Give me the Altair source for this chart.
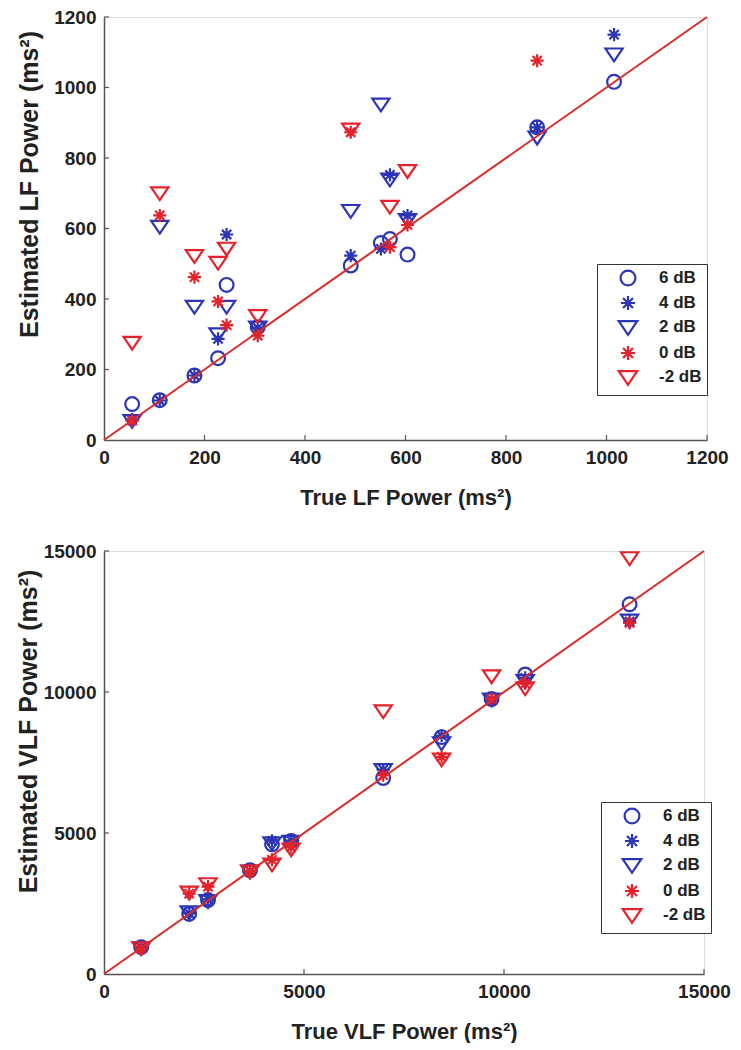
import altair as alt
import pandas as pd

BLUE = "#2B35B5"
RED = "#E5222B"
LINE_RED = "#DA2A2A"
AXIS_GRAY = "#555555"
TEXT = "#222222"
FONT = "Liberation Sans"

series = ["6 dB", "4 dB", "2 dB", "0 dB", "-2 dB"]
series_colors = [BLUE, BLUE, BLUE, RED, RED]
ASTERISK = ("M0,-0.95L0,0.95M-0.95,0L0.95,0M-0.67,-0.67L0.67,0.67"
            "M-0.67,0.67L0.67,-0.67")
TRI_DOWN = "M-1.25,-0.8L1.25,-0.8L0,1.05Z"
series_shapes = ["circle", ASTERISK, TRI_DOWN, ASTERISK, TRI_DOWN]

# ---- LF panel ----
lf_true = [56, 111, 180, 227, 244, 306, 491, 551, 569, 604, 862, 1015]
lf_6db = [102, 113, 183, 232, 440, 320, 495, 559, 570, 526, 887, 1016]
lf_4db = [58, 112, 183, 287, 583, 318, 523, 542, 752, 637, 887, 1150]
lf_2db = [55, 606, 379, 301, 379, 320, 651, 953, 740, 625, 859, 1095]
lf_0db = [55, 637, 462, 393, 326, 296, 873, None, 547, 610, 1076, None]
lf_m2db = [277, 701, 523, 504, 544, 353, 882, None, 663, 764, None, None]
lf_ticks = [0, 200, 400, 600, 800, 1000, 1200]

# ---- VLF panel ----
vlf_true = [930, 2130, 2600, 3650, 4200, 4680, 6980, 8440, 9690, 10530, 13140]
vlf_6db = [950, 2130, 2620, 3680, 4600, 4720, 6950, 8400, 9750, 10620, 13110]
vlf_4db = [950, 2150, 2650, 3660, 4720, 4730, 7250, 8450, 9700, 10500, 12500]
vlf_2db = [930, 2200, 2600, 3650, 4650, 4700, 7250, 8200, 9750, 10400, 12550]
vlf_0db = [900, 2850, 3100, 3650, 4050, 4500, 7050, 7700, 9750, 10300, 12450]
vlf_m2db = [930, 2900, 3200, 3650, 3900, 4430, 9330, 7620, 10570, 10150, 14760]
vlf_ticks = [0, 5000, 10000, 15000]


def long_df(true_vals, est_lists):
    rows = []
    for i, (name, vals) in enumerate(zip(series, est_lists)):
        for t, e in zip(true_vals, vals):
            if e is not None:
                rows.append({"true": t, "est": e, "series": name, "ord": i})
    return pd.DataFrame(rows)


def panel(df, ticks, xtitle, ytitle, w, h, title_y, ytitle_pad, lx, ly):
    dmax = ticks[-1]
    xs = alt.Scale(domain=[0, dmax], nice=False, zero=True)
    ys = alt.Scale(domain=[0, dmax], nice=False, zero=True)
    common_axis = dict(
        values=ticks, ticks=False, tickSize=0, grid=False,
        domainColor=AXIS_GRAY, domainWidth=1.5,
        labelFont=FONT, labelFontSize=19, labelFontWeight="bold", labelColor=TEXT,
        labelPadding=8, titleFont=FONT, titleFontWeight="bold",
        titleColor=TEXT, format="d", labelFlush=False, labelOverlap=False,
    )
    xaxis = alt.Axis(title=xtitle, titlePadding=20, titleFontSize=22, **common_axis)
    yaxis = alt.Axis(title=ytitle, titlePadding=ytitle_pad, titleFontSize=25,
                     titleY=title_y, **common_axis)
    legend = alt.Legend(
        title=None, orient="none", legendX=lx, legendY=ly,
        fillColor="white", strokeColor="#333333", padding=5,
        symbolSize=220, symbolStrokeWidth=2.2, symbolOffset=17,
        labelFont=FONT, labelFontSize=17, labelFontWeight="bold", labelColor=TEXT,
        labelOffset=22, rowPadding=1,
    )
    pts = alt.Chart(df).mark_point(filled=False, strokeWidth=2.2, size=190, opacity=1).encode(
        x=alt.X("true:Q", scale=xs, axis=xaxis),
        y=alt.Y("est:Q", scale=ys, axis=yaxis),
        color=alt.Color("series:N", scale=alt.Scale(domain=series, range=series_colors), legend=legend),
        shape=alt.Shape("series:N", scale=alt.Scale(domain=series, range=series_shapes), legend=legend),
        order=alt.Order("ord:Q"),
    )

    line_df = pd.DataFrame({"true": [0, dmax], "est": [0, dmax]})
    line = alt.Chart(line_df).mark_line(color=LINE_RED, strokeWidth=2).encode(
        x=alt.X("true:Q", scale=xs, axis=xaxis), y=alt.Y("est:Q", scale=ys, axis=yaxis)
    )
    tick_df = pd.DataFrame({"true": ticks[1:], "est": ticks[1:]})
    xt = alt.Chart(tick_df).mark_rule(color=AXIS_GRAY, strokeWidth=1.2).encode(
        x=alt.X("true:Q", scale=xs, axis=xaxis), y=alt.value(h), y2=alt.value(h - 5)
    )
    yt = alt.Chart(tick_df).mark_rule(color=AXIS_GRAY, strokeWidth=1.2).encode(
        y=alt.Y("est:Q", scale=ys, axis=yaxis), x=alt.value(0), x2=alt.value(5)
    )
    return alt.layer(pts, line, xt, yt).properties(width=w, height=h)


lf_df = long_df(lf_true, [lf_6db, lf_4db, lf_2db, lf_0db, lf_m2db])
vlf_df = long_df(vlf_true, [vlf_6db, vlf_4db, vlf_2db, vlf_0db, vlf_m2db])

top = panel(lf_df, lf_ticks, "True LF Power (ms²)", "Estimated LF Power (ms²)",
            603, 423, 167, 11, 493, 247)
bottom = panel(vlf_df, vlf_ticks, "True VLF Power (ms²)", "Estimated VLF Power (ms²)",
               600, 423, 180, 2, 497, 251)

chart = alt.vconcat(top, bottom, spacing=32).resolve_scale(
    color="independent", shape="independent"
).properties(
    padding={"left": 7, "top": -1, "right": 0, "bottom": 0}
).configure_view(stroke=None).configure(background="white")

chart.save("out.html", embed_options={"renderer": "svg", "actions": False})
